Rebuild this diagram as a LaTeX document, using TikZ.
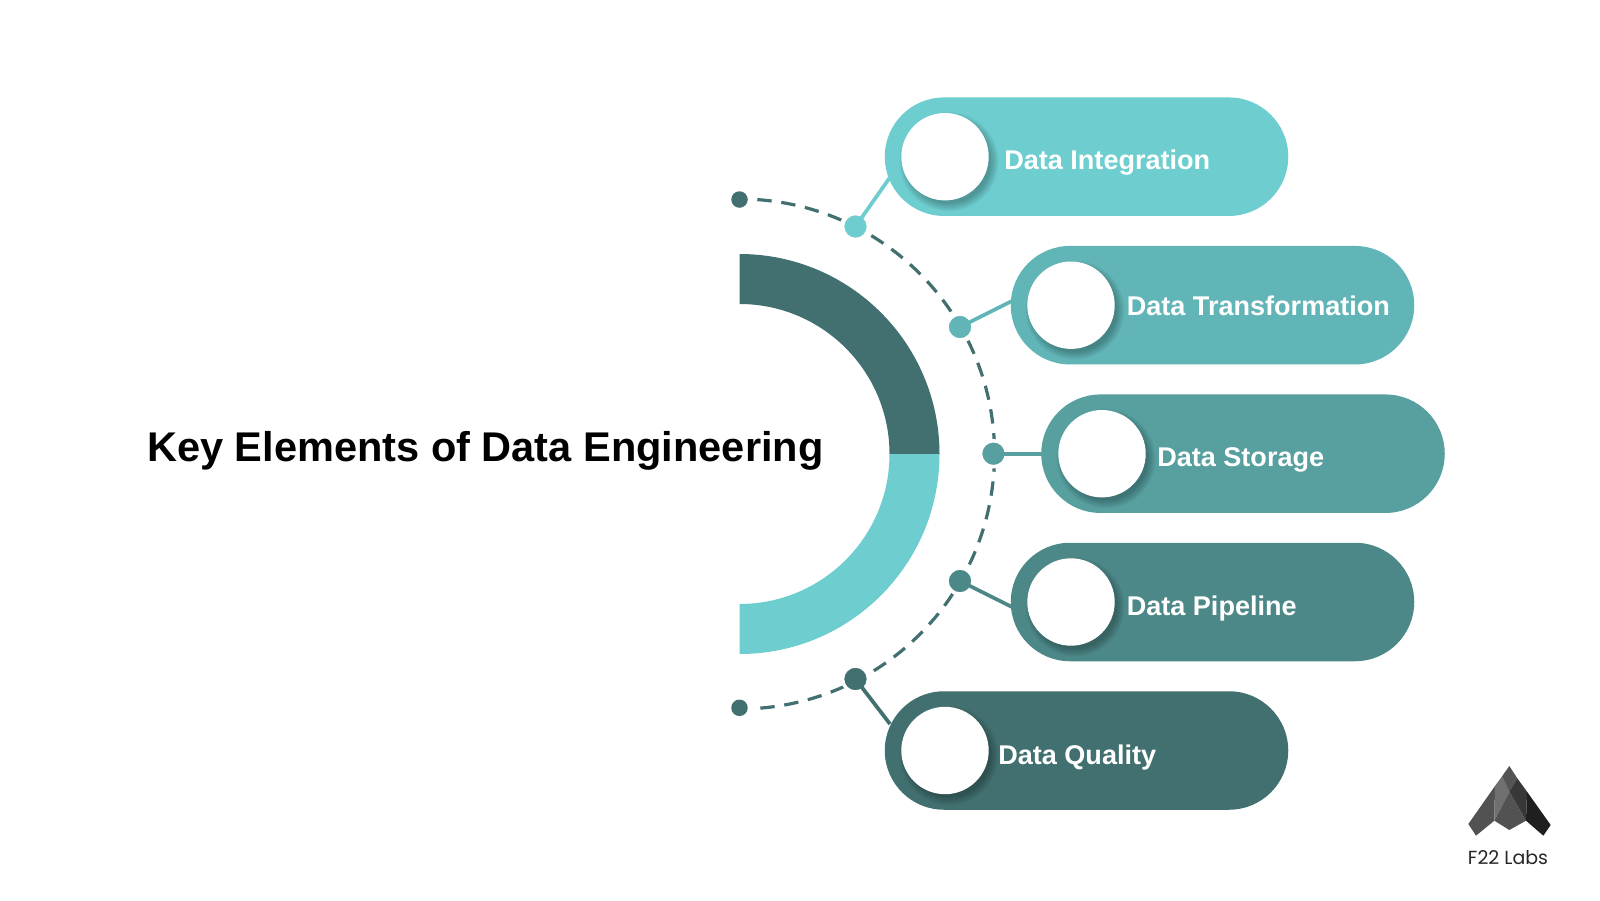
\documentclass[tikz,border=0pt]{standalone}
\usepackage{fontspec}
\setmainfont{Liberation Sans}
\newfontfamily\logofont{Poppins}
\usetikzlibrary{shapes.misc,calc}
\definecolor{cA}{HTML}{6DCDCF}
\definecolor{cB}{HTML}{62B5B7}
\definecolor{cC}{HTML}{589FA0}
\definecolor{cD}{HTML}{4D8888}
\definecolor{cE}{HTML}{427070}
\tikzset{
  pill/.style={rounded rectangle,fill=#1,draw=none,inner sep=0pt,minimum width=403.5*0.75pt,minimum height=118.5*0.75pt},
  icon/.style={circle,fill=white,draw=none,inner sep=0pt,minimum size=87.4*0.75pt},
  dotbig/.style={circle,fill=#1,draw=white,line width=2.6pt,inner sep=0pt,minimum size=26*0.75pt},
  dotend/.style={circle,fill=cE,draw=none,inner sep=0pt,minimum size=16.5*0.75pt},
  link/.style={draw=#1,line width=2.8pt},
  lab/.style={text=white,font=\bfseries\fontsize{20.3}{24}\selectfont,anchor=base west,inner sep=0pt},
  arcdash/.style={draw=cE,line width=2.4pt,dash pattern=on 10.8pt off 7.3pt},
  softlayer/.style={black,opacity=0.028}
}
\newcommand{\softshadow}[1]{%
  \foreach \k in {0,1,...,9}{\fill[softlayer] ($(#1)+(4,5)$) circle[radius=(41.5+\k*0.9)*0.75pt];}}
\begin{document}
\begin{tikzpicture}[x=0.75pt,y=-0.75pt]
\useasboundingbox (0,0) rectangle (1600,900);
\fill[white] (0,0) rectangle (1600,900);
\coordinate (ringc) at (739.5,454);
% half ring
\fill[cE] (ringc)++(0,-200) arc[start angle=90,end angle=0,radius=150pt] -- ++(-50,0) arc[start angle=0,end angle=90,radius=112.5pt] -- cycle;
\fill[cA] (ringc)++(200,0) arc[start angle=0,end angle=-90,radius=150pt] -- ++(0,-50) arc[start angle=-90,end angle=0,radius=112.5pt] -- cycle;
% dashed arc
\draw[arcdash] (ringc)++(17.8,-254.4) arc[start angle=86,end angle=-86,radius=191.25pt];
% pills
\node[pill=cA] (p1) at (1086.5,156.7) {};
\node[pill=cB] (p2) at (1212.5,305.2) {};
\node[pill=cC] (p3) at (1243,453.7) {};
\node[pill=cD] (p4) at (1212.5,602) {};
\node[pill=cE] (p5) at (1086.5,750.5) {};
% icons with soft shadows
\softshadow{945,156.7}
\softshadow{1071,305.2}
\softshadow{1102,453.7}
\softshadow{1071,602}
\softshadow{945,750.5}
\node[icon] (i1) at (945,156.7) {};
\node[icon] (i2) at (1071,305.2) {};
\node[icon] (i3) at (1102,453.7) {};
\node[icon] (i4) at (1071,602) {};
\node[icon] (i5) at (945,750.5) {};
% dots
\node[dotend] (e1) at (739.5,199.5) {};
\node[dotend] (e2) at (739.5,707.8) {};
\node[dotbig=cA] (d1) at (855.5,226.5) {};
\node[dotbig=cB] (d2) at (960,327) {};
\node[dotbig=cC] (d3) at (993.5,453.7) {};
\node[dotbig=cD] (d4) at (960,581) {};
\node[dotbig=cE] (d5) at (855.5,679) {};
% connector ends
\coordinate (c1) at (889.5,178);
\coordinate (c2) at (1012,301);
\coordinate (c3) at (1042,453.7);
\coordinate (c4) at (1012,607);
\coordinate (c5) at (890,724);
\draw[link=cA] (d1.center) -- (c1);
\draw[link=cB] (d2.center) -- (c2);
\draw[link=cC] (d3.center) -- (c3);
\draw[link=cD] (d4.center) -- (c4);
\draw[link=cE] (d5.center) -- (c5);
% labels
\node[lab] (t1) at (1004,169) {Data Integration};
\node[lab] (t2) at (1126.5,315) {Data Transformation};
\node[lab] (t3) at (1157,466) {Data Storage};
\node[lab] (t4) at (1126.5,615) {Data Pipeline};
\node[lab] (t5) at (998,764) {Data Quality};
\node[anchor=base west,inner sep=0pt,font=\bfseries\fontsize{31.15}{36}\selectfont] (title) at (147,461) {Key Elements of Data Engineering};
% logo
\begin{scope}[shift={(1440,750)},x=0.25pt,y=-0.25pt]
\fill[black!68] (85,222) -- (165,108) -- (163,212) -- (108,257) -- cycle;
\fill[black!56] (165,108) -- (186,79) -- (208,125) -- (163,212) -- cycle;
\fill[black!67] (208,48) -- (232,85) -- (208,125) -- (186,79) -- cycle;
\fill[black!68] (208,125) -- (258,212) -- (208,240) -- (163,212) -- cycle;
\fill[black!78] (232,85) -- (261,125) -- (258,212) -- (208,125) -- cycle;
\fill[black!88] (261,125) -- (332,225) -- (310,257) -- (258,212) -- cycle;
\end{scope}
\node[anchor=base,inner sep=0pt,text=black!85,font=\logofont\fontsize{14.2}{18}\selectfont] (logo) at (1508,864) {F22 Labs};
\end{tikzpicture}
\end{document}
